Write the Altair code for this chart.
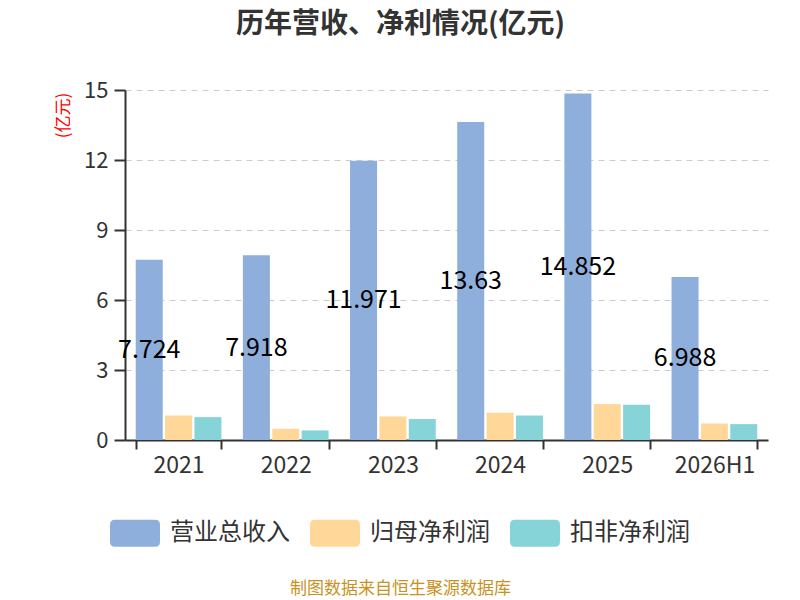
import altair as alt
import pandas as pd

years = ["2021", "2022", "2023", "2024", "2025", "2026H1"]
series = ["营业总收入", "归母净利润", "扣非净利润"]
revenue = [7.724, 7.918, 11.971, 13.63, 14.852, 6.988]
net_profit = [1.05, 0.48, 1.01, 1.17, 1.54, 0.71]
deducted_profit = [0.98, 0.41, 0.90, 1.05, 1.51, 0.68]
revenue_labels = ["7.724", "7.918", "11.971", "13.63", "14.852", "6.988"]
colors = ["#8eaedb", "#ffd899", "#87d4d8"]

rows = []
for i, y in enumerate(years):
    for s, vals in zip(series, [revenue, net_profit, deducted_profit]):
        rows.append({"year": y, "series": s, "value": vals[i],
                     "label": revenue_labels[i] if s == series[0] else ""})
df = pd.DataFrame(rows)

FONT = "Noto Sans CJK SC"

x = alt.X("year:N", sort=years,
          scale=alt.Scale(paddingInner=0.2, paddingOuter=0.1),
          axis=alt.Axis(title="制图数据来自恒生聚源数据库", titleColor="#c8921e",
                        titleFontSize=17, titleFontWeight="normal", titleFont=FONT,
                        titleX=275, titleY=148, titleBaseline="middle",
                        labelFontSize=23, labelColor="#333333", labelFont=FONT,
                        labelPadding=5, tickBand="extent", tickSize=9,
                        tickColor="#333333", tickWidth=2,
                        domainColor="#333333", domainWidth=2, grid=False,
                        labelAngle=0))
xo = alt.XOffset("series:N", sort=series, scale=alt.Scale(paddingInner=0.08))

bars = alt.Chart(df).mark_bar().encode(
    x=x,
    xOffset=xo,
    y=alt.Y("value:Q",
            scale=alt.Scale(domain=[0, 15], nice=False),
            axis=alt.Axis(values=[0, 3, 6, 9, 12, 15], title="(亿元)",
                          titleColor="#ff0000", titleFontSize=17,
                          titleFontWeight="normal", titleFont=FONT,
                          titleX=-62, titleY=25, titleAlign="center",
                          titleBaseline="middle",
                          labelFontSize=22, labelColor="#333333", labelFont=FONT,
                          labelPadding=6, tickSize=11, tickColor="#333333",
                          tickWidth=2, domainColor="#333333", domainWidth=2,
                          gridColor="#cccccc", gridDash=[6, 5], gridWidth=1.2)),
    color=alt.Color("series:N", sort=series,
                    scale=alt.Scale(domain=series, range=colors),
                    legend=alt.Legend(title=None, orient="none", direction="horizontal",
                                      legendX=-15, legendY=418,
                                      symbolType="M-0.8,-0.54L0.8,-0.54Q1,-0.54 1,-0.34L1,0.34Q1,0.54 0.8,0.54L-0.8,0.54Q-1,0.54 -1,0.34L-1,-0.34Q-1,-0.54 -0.8,-0.54Z",
                                      symbolSize=2500, symbolStrokeWidth=0,
                                      symbolOpacity=1, labelFontSize=24,
                                      labelColor="#333333", labelFont=FONT,
                                      labelOffset=10, columnPadding=20)),
)

labels = alt.Chart(df).transform_filter(
    alt.datum.series == series[0]
).transform_calculate(
    mid="datum.value / 2"
).mark_text(fontSize=25, color="#000000", font=FONT, baseline="middle").encode(
    x=x,
    xOffset=xo,
    y=alt.Y("mid:Q"),
    text="label:N",
)

chart = alt.layer(bars, labels).properties(
    width=643, height=350,
    autosize=alt.AutoSizeParams(type="none"),
    padding={"left": 117, "top": 82, "right": 24, "bottom": 158},
    title=alt.TitleParams("历年营收、净利情况(亿元)", fontSize=28, fontWeight="bold",
                          color="#333333", font=FONT, anchor="middle",
                          frame="group", dx=-46, offset=40),
).configure_view(stroke=None)

chart.save("out.html", embed_options={"renderer": "svg", "actions": False})
